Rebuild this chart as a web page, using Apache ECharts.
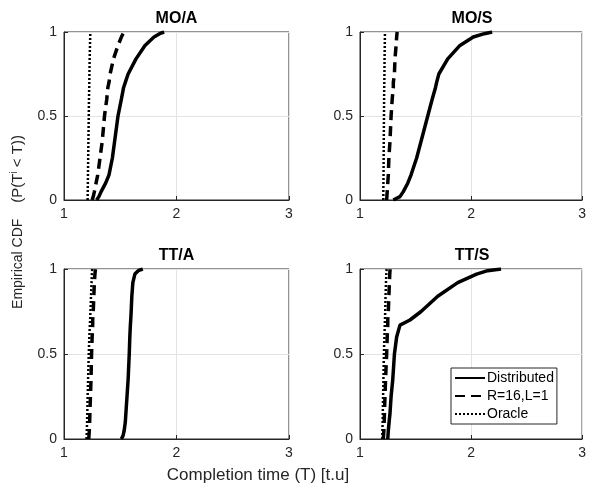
<!DOCTYPE html>
<html>
<head>
<meta charset="utf-8">
<script src="https://cdn.jsdelivr.net/npm/echarts@6/dist/echarts.min.js"></script>
<style>
  html, body { margin: 0; padding: 0; background: #fff; }
  #chart { width: 589px; height: 487px; }
</style>
</head>
<body>
<div id="chart"></div>
<script>
// cdf levels shared by all curves
const probs = [0, 0.02, 0.05, 0.1, 0.15, 0.25, 0.35, 0.5, 0.6, 0.67, 0.7, 0.75, 0.84, 0.92, 0.97, 0.99, 1];

// completion times read at each cdf level
const moaDist   = [1.29, 1.31, 1.33, 1.37, 1.40, 1.43, 1.45, 1.48, 1.51, 1.53, 1.545, 1.57, 1.64, 1.72, 1.80, 1.85, 1.89];
const moaR16    = [1.25, 1.26, 1.27, 1.285, 1.30, 1.32, 1.34, 1.36, 1.38, 1.39, 1.40, 1.41, 1.44, 1.48, 1.51, 1.525, 1.535];
const moaOracle = [1.21, 1.21, 1.211, 1.212, 1.213, 1.215, 1.217, 1.22, 1.222, 1.224, 1.225, 1.226, 1.228, 1.231, 1.233, 1.234, 1.235];

const mosDist   = [1.30, 1.36, 1.39, 1.43, 1.46, 1.51, 1.55, 1.61, 1.65, 1.68, 1.69, 1.71, 1.79, 1.90, 2.02, 2.12, 2.19];
const mosR16    = [1.24, 1.242, 1.245, 1.25, 1.255, 1.26, 1.27, 1.28, 1.29, 1.30, 1.30, 1.31, 1.315, 1.325, 1.33, 1.333, 1.335];
const mosOracle = [1.21, 1.21, 1.21, 1.211, 1.212, 1.213, 1.214, 1.216, 1.217, 1.218, 1.219, 1.22, 1.221, 1.223, 1.224, 1.225, 1.225];

const ttaDist   = [1.51, 1.525, 1.535, 1.545, 1.55, 1.56, 1.57, 1.58, 1.585, 1.59, 1.593, 1.597, 1.603, 1.612, 1.63, 1.66, 1.70];
const ttaR16    = [1.22, 1.222, 1.225, 1.228, 1.23, 1.235, 1.24, 1.245, 1.25, 1.255, 1.255, 1.26, 1.265, 1.27, 1.275, 1.278, 1.28];
const ttaOracle = [1.20, 1.201, 1.203, 1.205, 1.207, 1.21, 1.214, 1.22, 1.225, 1.23, 1.232, 1.235, 1.24, 1.245, 1.248, 1.25, 1.25];

const ttsDist   = [1.25, 1.252, 1.255, 1.262, 1.27, 1.28, 1.295, 1.31, 1.33, 1.36, 1.45, 1.55, 1.70, 1.88, 2.05, 2.15, 2.27];
const ttsR16    = [1.21, 1.212, 1.215, 1.218, 1.22, 1.225, 1.23, 1.24, 1.245, 1.25, 1.25, 1.255, 1.26, 1.265, 1.268, 1.27, 1.27];
const ttsOracle = [1.20, 1.201, 1.202, 1.204, 1.205, 1.208, 1.211, 1.215, 1.22, 1.223, 1.225, 1.227, 1.23, 1.234, 1.237, 1.239, 1.24];

const panelTitles = ['MO/A', 'MO/S', 'TT/A', 'TT/S'];
const seriesNames = ['Distributed', 'R=16,L=1', 'Oracle'];
const xTicks = [1, 2, 3];
const panels = [
  [moaDist, moaR16, moaOracle],
  [mosDist, mosR16, mosOracle],
  [ttaDist, ttaR16, ttaOracle],
  [ttsDist, ttsR16, ttsOracle]
];

const FONT = "'Liberation Sans', Arial, sans-serif";
const grids = [
  { left: 64, top: 32, width: 225, height: 168 },
  { left: 360, top: 32, width: 224, height: 168 },
  { left: 64, top: 269, width: 225, height: 170 },
  { left: 360, top: 269, width: 224, height: 170 }
];
const lineStyles = [
  { width: 3.5, type: 'solid' },
  { width: 3.5, type: [10, 6] },
  { width: 2.5, type: [2, 2] }
];

const chart = echarts.init(document.getElementById('chart'));

const option = {
  animation: false,
  backgroundColor: '#fff',
  textStyle: { fontFamily: FONT },
  title: panelTitles.map((t, i) => ({
    text: t,
    left: grids[i].left + grids[i].width / 2,
    top: grids[i].top - 21,
    padding: 0,
    textAlign: 'center',
    textStyle: { fontSize: 16, fontWeight: 'bold', color: '#000', fontFamily: FONT }
  })),
  grid: grids.map(g => Object.assign({ show: true, borderColor: '#262626', borderWidth: 1, backgroundColor: 'transparent' }, g)),
  xAxis: grids.map((g, i) => ({
    type: 'value',
    gridIndex: i,
    min: xTicks[0],
    max: xTicks[xTicks.length - 1],
    interval: 1,
    axisLine: { show: true, lineStyle: { color: '#262626', width: 1 } },
    axisTick: { show: true, inside: true, length: 4, lineStyle: { color: '#262626' } },
    axisLabel: { color: '#262626', fontSize: 14, margin: 7, fontFamily: FONT },
    splitLine: { show: true, lineStyle: { color: '#e3e3e3', width: 1 } }
  })),
  yAxis: grids.map((g, i) => ({
    type: 'value',
    gridIndex: i,
    min: 0,
    max: 1,
    interval: 0.5,
    axisLine: { show: true, lineStyle: { color: '#262626', width: 1 } },
    axisTick: { show: true, inside: true, length: 4, lineStyle: { color: '#262626' } },
    axisLabel: { color: '#262626', fontSize: 14, margin: 7, fontFamily: FONT },
    splitLine: { show: true, lineStyle: { color: '#e3e3e3', width: 1 } }
  })),
  legend: {
    left: 451,
    top: 368,
    orient: 'vertical',
    itemWidth: 30,
    itemHeight: 14,
    itemGap: 4,
    padding: [3, 3, 3, 3],
    backgroundColor: '#fff',
    borderColor: '#262626',
    borderWidth: 1,
    borderRadius: 0,
    itemStyle: { opacity: 0 },
    data: seriesNames,
    textStyle: { color: '#000', fontSize: 14, fontFamily: FONT, padding: [0, 0, 0, -3] }
  },
  series: [],
  graphic: [
    {
      type: 'text',
      x: 18,
      y: 222,
      rotation: Math.PI / 2,
      style: {
        text: '{a|Empirical CDF}{g|}{b|(P(T}{s|i}{b| < T))}',
        textAlign: 'center',
        textVerticalAlign: 'middle',
        fill: '#262626',
        rich: {
          a: { fontSize: 14, fontFamily: FONT, color: '#262626' },
          b: { fontSize: 15, fontFamily: FONT, color: '#262626' },
          g: { width: 16 },
          s: { fontSize: 10, fontFamily: FONT, color: '#262626', verticalAlign: 'top', padding: [0, 0, 8, 0] }
        }
      }
    },
    {
      type: 'text',
      x: 258,
      y: 475,
      style: {
        text: 'Completion time (T) [t.u]',
        textAlign: 'center',
        textVerticalAlign: 'middle',
        fontSize: 17,
        fontFamily: FONT,
        fill: '#262626'
      }
    }
  ]
};

panels.forEach((curves, i) => {
  curves.forEach((times, k) => {
    option.series.push({
      name: seriesNames[k],
      type: 'line',
      xAxisIndex: i,
      yAxisIndex: i,
      symbol: 'none',
      showSymbol: false,
      color: '#000',
      lineStyle: Object.assign({ color: '#000' }, lineStyles[k]),
      data: times.map((t, j) => [t, probs[j]])
    });
  });
});

chart.setOption(option);
</script>
</body>
</html>
